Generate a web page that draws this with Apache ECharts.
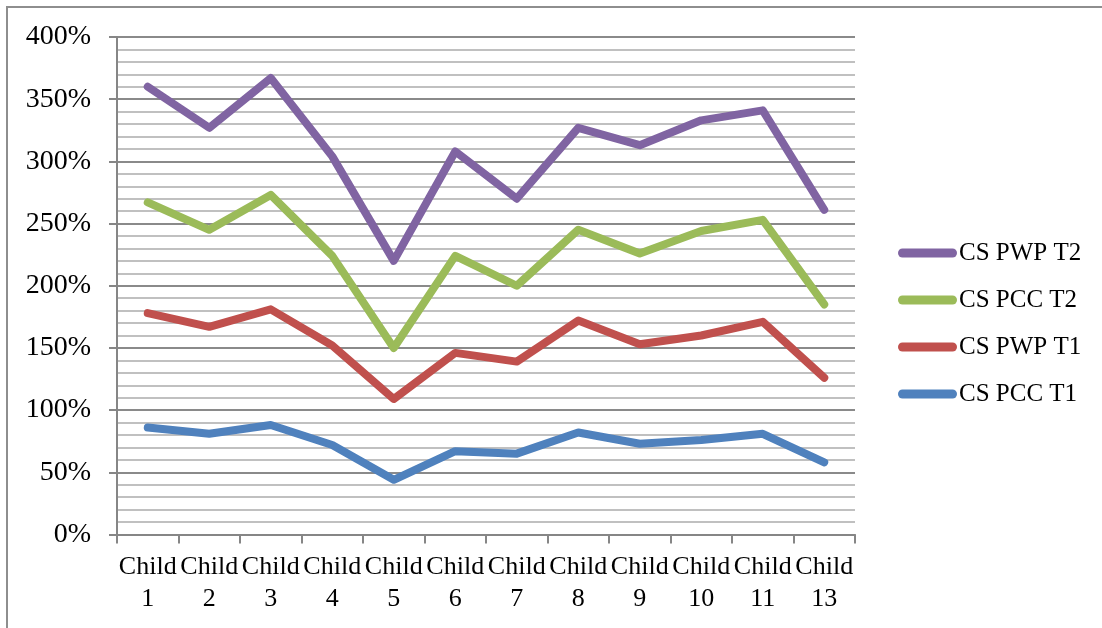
<!DOCTYPE html>
<html>
<head>
<meta charset="utf-8">
<script src="https://cdn.jsdelivr.net/npm/echarts@6/dist/echarts.min.js"></script>
<style>
  html, body { margin: 0; padding: 0; background: #fff; }
  #chart { width: 1102px; height: 628px; }
</style>
</head>
<body>
<div id="chart"></div>
<script>
// Categories along the x axis
const categories = ['Child\n1', 'Child\n2', 'Child\n3', 'Child\n4', 'Child\n5', 'Child\n6',
                    'Child\n7', 'Child\n8', 'Child\n9', 'Child\n10', 'Child\n11', 'Child\n13'];

// Series values, in percent
const csPwpT2 = [360, 327, 367, 304, 220, 308, 270, 327, 313, 333, 341, 261];
const csPccT2 = [267, 245, 273, 224, 150, 224, 200, 245, 226, 244, 253, 185];
const csPwpT1 = [178, 167, 181, 152, 109, 146, 139, 172, 153, 160, 171, 126];
const csPccT1 = [86, 81, 88, 72, 44, 67, 65, 82, 73, 76, 81, 58];

const seriesNames = ['CS PWP T2', 'CS PCC T2', 'CS PWP T1', 'CS PCC T1'];
const seriesColors = ['#8064A2', '#9BBB59', '#C0504D', '#4F81BD'];
const seriesData = [csPwpT2, csPccT2, csPwpT1, csPccT1];

const FONT = '"Liberation Serif", "DejaVu Serif", serif';

const chart = echarts.init(document.getElementById('chart'), null, { renderer: 'canvas' });

chart.setOption({
  backgroundColor: '#ffffff',
  animation: false,
  textStyle: { fontFamily: FONT, color: '#000' },
  graphic: [
    {
      type: 'polyline',
      shape: { points: [[7, 628], [7, 7], [1102, 7]] },
      style: { stroke: '#8e8e8e', lineWidth: 2, fill: null },
      silent: true
    }
  ],
  grid: { left: 117, right: 247, top: 37, bottom: 93.5, containLabel: false },
  legend: {
    orient: 'vertical',
    left: 893,
    top: 233,
    itemWidth: 59,
    itemHeight: 9,
    itemGap: 17,
    icon: 'path://M4.5,0 L54.5,0 A4.5,4.5 0 0 1 54.5,9 L4.5,9 A4.5,4.5 0 0 1 4.5,0 Z',
    textStyle: { fontFamily: FONT, fontSize: 25, color: '#000', lineHeight: 30, padding: [0, 0, 0, -3] },
    data: seriesNames
  },
  xAxis: {
    type: 'category',
    data: categories,
    boundaryGap: true,
    axisLine: { show: true, lineStyle: { color: '#868686', width: 2 } },
    axisTick: { show: true, length: 9, alignWithLabel: false, lineStyle: { color: '#868686', width: 2 } },
    axisLabel: { fontFamily: FONT, fontSize: 26, color: '#000', lineHeight: 32, margin: 17, interval: 0 },
    splitLine: { show: false }
  },
  yAxis: {
    type: 'value',
    min: 0,
    max: 400,
    interval: 50,
    axisLine: { show: true, lineStyle: { color: '#868686', width: 2 } },
    axisTick: { show: true, length: 8, lineStyle: { color: '#868686', width: 2 } },
    axisLabel: { fontFamily: FONT, fontSize: 28, color: '#000', margin: 26, formatter: '{value}%' },
    splitLine: { show: true, lineStyle: { color: '#8a8a8a', width: 2 } },
    minorTick: { show: false, splitNumber: 5 },
    minorSplitLine: { show: true, lineStyle: { color: '#c0c0c0', width: 2 } }
  },
  series: seriesData.map((d, i) => ({
    name: seriesNames[i],
    type: 'line',
    data: d,
    symbol: 'none',
    color: seriesColors[i],
    lineStyle: { color: seriesColors[i], width: 8, cap: 'round', join: 'round' },
    z: 10 - i
  }))
});
</script>
</body>
</html>
